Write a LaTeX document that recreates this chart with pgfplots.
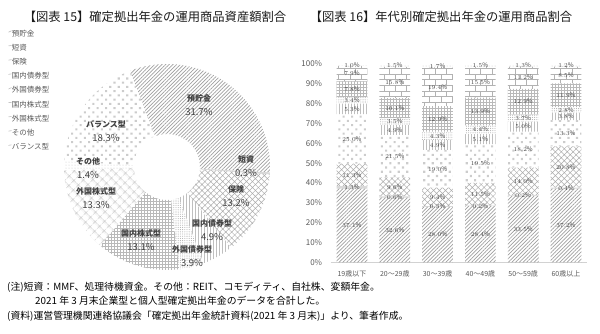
\documentclass[border=0pt]{standalone}
\usepackage{fontspec}
\setmainfont{Noto Sans CJK JP}
\usepackage{pgfplots}
\usepackage{pgfplotstable}
\pgfplotsset{compat=1.18}
\usepgfplotslibrary{polar,fillbetween}
\usetikzlibrary{patterns,patterns.meta}

\definecolor{tickc}{HTML}{595959}
\definecolor{labc}{HTML}{404040}
\definecolor{ttlc}{HTML}{1A1A1A}

\tikzset{
 pY/.style={pattern={Lines[angle=45,distance=2.6pt,line width=0.7pt]}, pattern color=gray!75},
 pT/.style={fill=gray!30},
 pH/.style={pattern={Hatch[angle=45,distance=4.2pt,line width=0.5pt]}, pattern color=gray!65},
 pB/.style={pattern={Dots[distance=6pt,radius=1.5pt,angle=45]}, pattern color=gray!40},
 pKS/.style={pattern=vertical lines, pattern color=gray!50},
 pGS/.style={pattern={Dots[distance=2.2pt,radius=0.55pt]}, pattern color=gray!60},
 pKK/.style={pattern=grid, pattern color=gray!55},
 pGK/.style={pattern=bricks, pattern color=gray!60},
 pGKpie/.style={pattern={Hatch[angle=45,distance=6.5pt,line width=0.45pt]}, pattern color=gray!50},
 pS/.style={pattern={Dots[distance=3pt,radius=0.5pt]}, pattern color=gray!45},
}

% age-group shares (%), stacked bottom to top
\pgfplotstableread{
x yo tan hok bal ksai gsai kkab gkab son
0 37.1 1.3 11.3 25.0 5.3 3.4 7.8 7.9 1.0
1 32.6 0.6 9.6 21.5 4.9 3.5 10.1 15.8 1.5
2 28.0 0.3 9.4 19.0 4.9 4.3 12.9 19.4 1.7
3 28.4 0.2 11.5 19.5 5.1 4.4 13.9 15.5 1.5
4 33.5 0.2 14.0 18.2 5.0 3.7 12.9 11.2 1.3
5 37.2 0.4 20.8 13.3 3.8 2.8 11.9 8.5 1.2
}\agedata

\newcommand\pieStart{111}
% #1 id, #2 cumulative start (%), #3 cumulative end (%), #4 style
\newcommand\donutslice[4]{%
  \pgfmathsetmacro\aA{\pieStart-(#3)/100.1*360}%
  \pgfmathsetmacro\aB{\pieStart-(#2)/100.1*360}%
  \edef\doit{\noexpand\addplot[draw=none, forget plot, name path=out#1, domain=\aA:\aB, samples=60] {103};
    \noexpand\addplot[draw=none, forget plot, name path=in#1, domain=\aA:\aB, samples=30] {33};}%
  \doit
  \addplot[#4, draw=none, forget plot] fill between[of=out#1 and in#1];
}

\newcommand\barlabel{\pgfmathprintnumber[fixed,fixed zerofill,precision=1]{\pgfplotspointmeta}\%}

\begin{document}
\begin{tikzpicture}[x=1pt,y=1pt]
% ---------- donut ----------
\begin{polaraxis}[
  at={(167pt,166pt)}, anchor=origin,
  width=206pt, height=206pt, scale only axis,
  ymin=0, ymax=103, hide axis, clip=false,
]
\donutslice{a}{0}{31.7}{pY}
\donutslice{b}{31.7}{32.0}{pT}
\donutslice{c}{32.0}{45.2}{pH}
\donutslice{d}{45.2}{50.1}{pKS}
\donutslice{e}{50.1}{54.0}{pGS}
\donutslice{f}{54.0}{67.1}{pKK}
\donutslice{g}{67.1}{80.4}{pGKpie}
\donutslice{h}{80.4}{81.8}{pS}
\donutslice{i}{81.8}{100.1}{pB}
\end{polaraxis}

% ---------- stacked bars ----------
\begin{axis}[
  at={(330.6pt,70.7pt)}, anchor=south west,
  width=256.8pt, height=198.3pt, scale only axis,
  ybar stacked, bar width=30.7pt,
  xmin=-0.5, xmax=5.5, ymin=0, ymax=100,
  axis x line=bottom, axis y line=left,
  x axis line style={draw=gray!35, -},
  y axis line style={draw=none},
  major tick length=0pt,
  xtick={0,...,5},
  xticklabels={19歳以下,20～29歳,30～39歳,40～49歳,50～59歳,60歳以上},
  ytick={0,10,...,100},
  yticklabels={0\%,10\%,20\%,30\%,40\%,50\%,60\%,70\%,80\%,90\%,100\%},
  xticklabel style={font=\fontsize{7}{8}\selectfont, text=tickc, yshift=-5pt},
  yticklabel style={font=\fontsize{8}{9}\selectfont, text=tickc, xshift=-5pt},
  clip=false,
  point meta=explicit,
  nodes near coords={\barlabel},
  every node near coord/.append style={anchor=center, font=\fontsize{6.3}{7}\selectfont, text=labc},
  legend style={at={(axis description cs:-1.256,1.175)}, anchor=north west, draw=none, fill=none,
     inner sep=0pt, font=\fontsize{7.5}{8}\selectfont, text=tickc, row sep=6.7pt,
     nodes={inner sep=0pt, text height=6.5pt, text depth=1pt}},
  legend cell align=left,
]
\addplot[pY, draw=none, forget plot] table[x=x, y=yo, meta=yo] \agedata;
\addplot[pT, draw=none, forget plot] table[x=x, y=tan, meta=tan] \agedata;
\addplot[pH, draw=none, forget plot] table[x=x, y=hok, meta=hok] \agedata;
\addplot[pB, draw=none, forget plot] table[x=x, y=bal, meta=bal] \agedata;
\addplot[pKS, draw=none, forget plot] table[x=x, y=ksai, meta=ksai] \agedata;
\addplot[pGS, draw=none, forget plot] table[x=x, y=gsai, meta=gsai] \agedata;
\addplot[pKK, draw=none, forget plot] table[x=x, y=kkab, meta=kkab] \agedata;
\addplot[pGK, draw=none, forget plot] table[x=x, y=gkab, meta=gkab] \agedata;
\addplot[pS, draw=none, forget plot] table[x=x, y=son, meta=son] \agedata;
\addlegendimage{legend image code/.code={\draw[gray!60, line width=0.5pt] (0pt,1pt) -- (3pt,2.5pt);}}
\addlegendentry{預貯金}
\addlegendimage{legend image code/.code={\draw[gray!60, line width=0.5pt] (0pt,1.5pt) -- (3pt,2pt);}}
\addlegendentry{短資}
\addlegendimage{legend image code/.code={\draw[gray!60, line width=0.5pt] (0pt,1.5pt) -- (3pt,2pt);}}
\addlegendentry{保険}
\addlegendimage{legend image code/.code={\draw[gray!60, line width=0.5pt] (0pt,1.5pt) -- (3pt,2pt);}}
\addlegendentry{国内債券型}
\addlegendimage{legend image code/.code={\draw[gray!60, line width=0.5pt] (0pt,1pt) -- (3pt,2.5pt);}}
\addlegendentry{外国債券型}
\addlegendimage{legend image code/.code={\draw[gray!60, line width=0.5pt] (0pt,1.5pt) -- (3pt,2pt);}}
\addlegendentry{国内株式型}
\addlegendimage{legend image code/.code={\draw[gray!60, line width=0.5pt] (0pt,1.5pt) -- (3pt,2pt);}}
\addlegendentry{外国株式型}
\addlegendimage{legend image code/.code={\draw[gray!60, line width=0.5pt] (0pt,1.5pt) -- (3pt,2pt);}}
\addlegendentry{その他}
\addlegendimage{legend image code/.code={\draw[gray!60, line width=0.5pt] (0pt,1.5pt) -- (3pt,2pt);}}
\addlegendentry{バランス型}
\end{axis}

% ---------- titles ----------
\node[font=\fontsize{12.3}{14}\selectfont, text=ttlc] at (155,316) {【図表 15】確定拠出年金の運用商品資産額割合};
\node[font=\fontsize{12.3}{14}\selectfont, text=ttlc] at (441,316) {【図表 16】年代別確定拠出年金の運用商品割合};

% ---------- donut labels ----------
\tikzset{plab/.style={align=center, text=labc, font=\fontsize{8}{14}\selectfont}}
\newcommand\pl[2]{{\bfseries #1}\\{\fontsize{9.5}{14}\selectfont #2}}
\node[plab] at (199,228) {\pl{預貯金}{31.7\%}};
\node[plab] at (246,167) {\pl{短資}{0.3\%}};
\node[plab] at (236,136.5) {\pl{保険}{13.2\%}};
\node[plab] at (212,103) {\pl{国内債券型}{4.9\%}};
\node[plab] at (192,76.5) {\pl{外国債券型}{3.9\%}};
\node[plab] at (141,92.5) {\pl{国内株式型}{13.1\%}};
\node[plab] at (96,134.7) {\pl{外国株式型}{13.3\%}};
\node[plab] at (88,164.7) {\pl{その他}{1.4\%}};
\node[plab] at (106,202) {\pl{バランス型}{18.3\%}};

% ---------- notes ----------
\tikzset{note/.style={anchor=west, inner sep=0pt, font=\fontsize{9.85}{11}\selectfont, text=black}}
\node[note] at (7,46) {(注)短資：MMF、処理待機資金。その他：REIT、コモディティ、自社株、変額年金。};
\node[note] at (35,32) {2021 年 3 月末企業型と個人型確定拠出年金のデータを合計した。};
\node[note] at (7,17) {(資料)運営管理機関連絡協議会「確定拠出年金統計資料(2021 年 3 月末)」より、筆者作成。};

\pgfresetboundingbox
\useasboundingbox (0,0) rectangle (600,333);
\end{tikzpicture}
\end{document}
